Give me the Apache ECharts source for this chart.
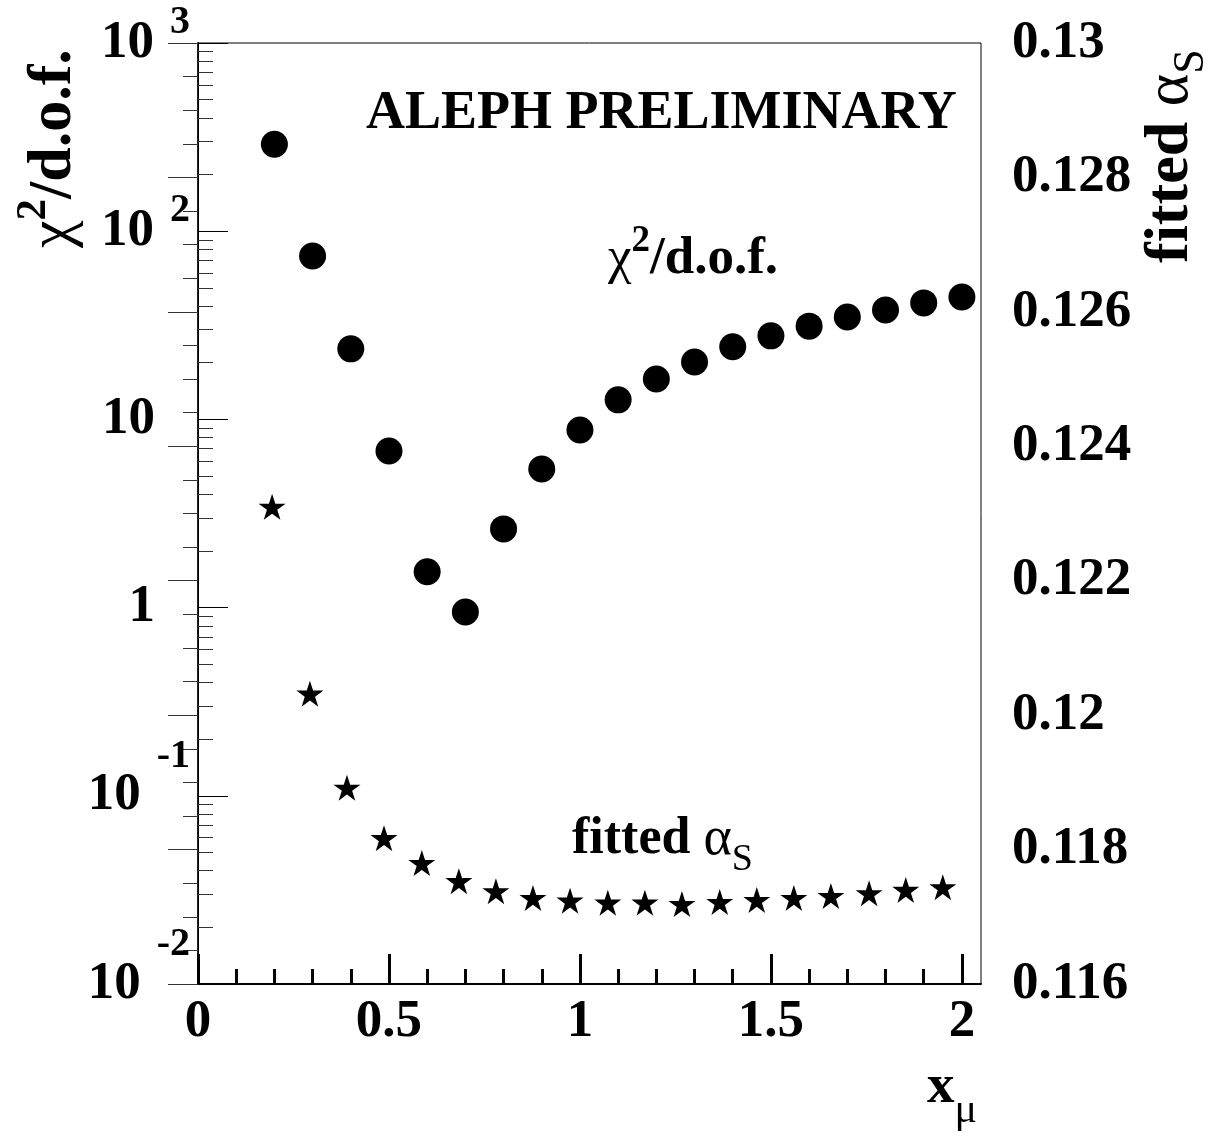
<!DOCTYPE html>
<html><head><meta charset="utf-8">
<script src="https://cdn.jsdelivr.net/npm/echarts@6/dist/echarts.min.js"></script>
<style>html,body{margin:0;padding:0;background:#fff}#c{width:1218px;height:1139px}</style>
</head><body><div id="c"></div>
<script>
// ---- data ----
const xChi = [0.2,0.3,0.4,0.5,0.6,0.7,0.8,0.9,1.0,1.1,1.2,1.3,1.4,1.5,1.6,1.7,1.8,1.9,2.0];
const chi2 = [290,73.8,23.7,6.79,1.55,0.948,2.62,5.45,8.79,12.7,16.4,20.2,24.3,27.8,31.3,35.0,38.1,41.6,44.7];
const xAlpha = [0.194,0.293,0.390,0.487,0.586,0.683,0.780,0.877,0.974,1.073,1.170,1.267,1.366,1.463,1.560,1.657,1.757,1.853,1.950];
const alphaS = [0.12310,0.12032,0.11892,0.11817,0.11780,0.11753,0.11738,0.11728,0.11724,0.11721,0.11721,0.11719,0.11722,0.11725,0.11728,0.11731,0.11735,0.11740,0.11744];
const xTicks = [0,0.5,1,1.5,2];
const xTickLabels = ['0','0.5','1','1.5','2'];
const xMinorTicks = [0.1,0.2,0.3,0.4,0.6,0.7,0.8,0.9,1.1,1.2,1.3,1.4,1.6,1.7,1.8,1.9];
const logMinorTicks = [0.02,0.03,0.04,0.05,0.06,0.07,0.08,0.09,
  0.2,0.3,0.4,0.5,0.6,0.7,0.8,0.9, 2,3,4,5,6,7,8,9,
  20,30,40,50,60,70,80,90, 200,300,400,500,600,700,800,900];
const rightTickLabels = ['0.116','0.118','0.12','0.122','0.124','0.126','0.128','0.13'];

const FONT = '"Liberation Serif","Times New Roman",serif';
const STAR = 'path://M50,0 L61.23,34.55 L97.55,34.55 L68.17,55.9 L79.39,90.45 L50,69.1 L20.61,90.45 L31.83,55.9 L2.45,34.55 L38.77,34.55 Z';

const chart = echarts.init(document.getElementById('c'), null, {renderer:'canvas'});
const B = {fontFamily:FONT, fontWeight:'bold', color:'#000'};
const option = {
  animation:false,
  backgroundColor:'#fff',
  grid:{left:198,right:237,top:43,bottom:155,show:true,borderColor:'#000',borderWidth:1,backgroundColor:'transparent'},
  xAxis:[
    {type:'value',min:0,max:2.05,position:'bottom',
     axisLine:{show:true,lineStyle:{color:'#000',width:2}},
     axisTick:{show:true,inside:true,length:30,customValues:xTicks,lineStyle:{color:'#000',width:3}},
     axisLabel:{show:true,customValues:xTicks,margin:12,fontSize:53,fontFamily:FONT,fontWeight:'bold',color:'#000',
       formatter:(v)=>{const i=xTicks.findIndex(t=>Math.abs(t-v)<1e-6);return i>=0?xTickLabels[i]:'';}},
     splitLine:{show:false}},
    {type:'value',min:0,max:2.05,position:'bottom',
     axisLine:{show:false},
     axisTick:{show:true,inside:true,length:15,customValues:xMinorTicks,lineStyle:{color:'#000',width:3}},
     axisLabel:{show:false},splitLine:{show:false}}
  ],
  yAxis:[
    {type:'log',logBase:10,min:0.01,max:1000,position:'left',
     axisLine:{show:true,lineStyle:{color:'#222',width:2}},
     axisTick:{show:true,inside:true,length:30,lineStyle:{color:'#000',width:1}},
     axisLabel:{show:true,margin:8,align:'right',verticalAlign:'middle',
       formatter:(v)=>{const e=Math.round(Math.log10(v));
         if(e===0) return '{p|1}'; if(e===1) return '{p|10}';
         if(e<0) return '{bn|10}{ex|'+e+'}'; return '{bp|10}{ex|'+e+'}';},
       rich:{
         p:Object.assign({fontSize:53,lineHeight:60,padding:[0,35,0,0]},B),
         bp:Object.assign({fontSize:53,lineHeight:81},B),
         bn:Object.assign({fontSize:53,lineHeight:118},B),
         ex:Object.assign({fontSize:40,lineHeight:40,verticalAlign:'top',padding:[0,0,0,16]},B)
       }},
     splitLine:{show:false}},
    {type:'value',min:0.116,max:0.13,interval:0.002,position:'right',
     axisLine:{show:true,lineStyle:{color:'#000',width:1}},
     axisTick:{show:true,inside:true,length:30,lineStyle:{color:'#333',width:1}},
     minorTick:{show:true,splitNumber:4,length:15,lineStyle:{color:'#333',width:1}},
     axisLabel:{show:true,margin:31,fontSize:53,fontFamily:FONT,fontWeight:'bold',color:'#000',
       formatter:(v)=>{const i=Math.round((v-0.116)/0.002);return rightTickLabels[i]||'';}},
     splitLine:{show:false},minorSplitLine:{show:false}},
    {type:'log',logBase:10,min:0.01,max:1000,position:'left',
     axisLine:{show:false},
     axisTick:{show:true,inside:true,length:15,customValues:logMinorTicks,lineStyle:{color:'#333',width:1}},
     axisLabel:{show:false},splitLine:{show:false}}
  ],
  series:[
    {type:'scatter',xAxisIndex:0,yAxisIndex:0,symbol:'circle',symbolSize:27,
     itemStyle:{color:'#000',opacity:1},emphasis:{disabled:true},data:xChi.map((x,i)=>[x,chi2[i]]),z:5},
    {type:'scatter',xAxisIndex:0,yAxisIndex:1,symbol:STAR,symbolSize:[27,26],
     itemStyle:{color:'#000',opacity:1},emphasis:{disabled:true},data:xAlpha.map((x,i)=>[x,alphaS[i]]),z:5}
  ],
  graphic:[
    {type:'text',x:366,y:114,style:{text:'ALEPH PRELIMINARY',fontSize:54,fontWeight:'bold',fontFamily:FONT,fill:'#000',align:'left',verticalAlign:'middle'}},
    {type:'text',x:608,y:259,style:{text:'{c|χ}{s|2}{t|/d.o.f.}',align:'left',verticalAlign:'middle',fill:'#000',
      rich:{c:{fontSize:53,fontFamily:FONT,lineHeight:72,fill:'#000'},
            s:{fontSize:37,fontFamily:FONT,fontWeight:'bold',lineHeight:37,verticalAlign:'top',fill:'#000'},
            t:{fontSize:53,fontFamily:FONT,fontWeight:'bold',lineHeight:72,fill:'#000'}}}},
    {type:'text',x:572,y:840,style:{text:'{f|fitted }{a|α}{s|S}',align:'left',verticalAlign:'middle',fill:'#000',
      rich:{f:{fontSize:52,fontFamily:FONT,fontWeight:'bold',lineHeight:78,fill:'#000'},
            a:{fontSize:54,fontFamily:FONT,lineHeight:78,fill:'#000'},
            s:{fontSize:38,fontFamily:FONT,lineHeight:38,verticalAlign:'bottom',fill:'#000'}}}},
    {type:'text',x:927,y:1088,style:{text:'{x|x}{m|μ}',align:'left',verticalAlign:'middle',fill:'#000',
      rich:{x:{fontSize:55,fontFamily:FONT,fontWeight:'bold',lineHeight:88,fill:'#000'},
            m:{fontSize:42,fontFamily:FONT,lineHeight:42,verticalAlign:'bottom',fill:'#000'}}}},
    {type:'text',x:54,y:248,rotation:Math.PI/2,style:{text:'{c|χ}{s|2}{t|/d.o.f.}',align:'left',verticalAlign:'middle',fill:'#000',
      rich:{c:{fontSize:62,fontFamily:FONT,lineHeight:84,fill:'#000'},
            s:{fontSize:43,fontFamily:FONT,fontWeight:'bold',lineHeight:43,verticalAlign:'top',fill:'#000'},
            t:{fontSize:62,fontFamily:FONT,fontWeight:'bold',lineHeight:84,fill:'#000'}}}},
    {type:'text',x:1171,y:263,rotation:Math.PI/2,style:{text:'{f|fitted }{a|α}{s|S}',align:'left',verticalAlign:'middle',fill:'#000',
      rich:{f:{fontSize:62,fontFamily:FONT,fontWeight:'bold',lineHeight:84,fill:'#000'},
            a:{fontSize:62,fontFamily:FONT,lineHeight:84,fill:'#000'},
            s:{fontSize:44,fontFamily:FONT,lineHeight:44,verticalAlign:'bottom',fill:'#000'}}}}
  ]
};
chart.setOption(option);
</script></body></html>
